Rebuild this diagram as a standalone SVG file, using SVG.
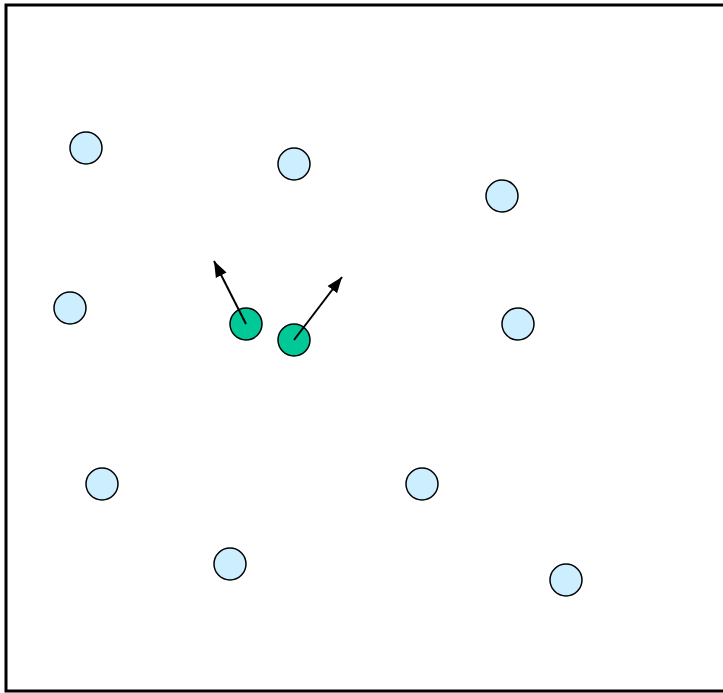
<svg xmlns="http://www.w3.org/2000/svg" width="723" height="693" viewBox="0 0 723 693">
<style>
.p{fill:#cceeff;stroke:#000;stroke-width:1.5}
.g{fill:#00c896;stroke:#000;stroke-width:1.5}
.a{stroke:#000;stroke-width:2;fill:none}
</style>
<defs>
<marker id="ah" markerUnits="userSpaceOnUse" markerWidth="16" markerHeight="14" refX="16" refY="6" orient="auto" viewBox="0 0 16 12">
<path d="M0,0 L16,6 L0,12 Z" fill="#000"/>
</marker>
</defs>
<rect x="6" y="5" width="730" height="686" fill="#fff" stroke="#000" stroke-width="3"/>
<g id="n1"><circle class="p" cx="86" cy="148" r="16"/></g>
<g id="n2"><circle class="p" cx="294" cy="164" r="16"/></g>
<g id="n3"><circle class="p" cx="502" cy="196" r="16"/></g>
<g id="n4"><circle class="p" cx="70" cy="308" r="16"/></g>
<g id="n5"><circle class="p" cx="518" cy="324" r="16"/></g>
<g id="n6"><circle class="p" cx="102" cy="484" r="16"/></g>
<g id="n7"><circle class="p" cx="422" cy="484" r="16"/></g>
<g id="n8"><circle class="p" cx="230" cy="564" r="16"/></g>
<g id="n9"><circle class="p" cx="566" cy="580" r="16"/></g>
<g id="g1"><circle class="g" cx="246" cy="324" r="16"/></g>
<g id="g2"><circle class="g" cx="294" cy="340" r="16"/></g>
<g id="connectors">
<line class="a" x1="246" y1="324" x2="214" y2="261" marker-end="url(#ah)"/>
<line class="a" x1="294" y1="340" x2="342" y2="277" marker-end="url(#ah)"/>
</g>
</svg>
